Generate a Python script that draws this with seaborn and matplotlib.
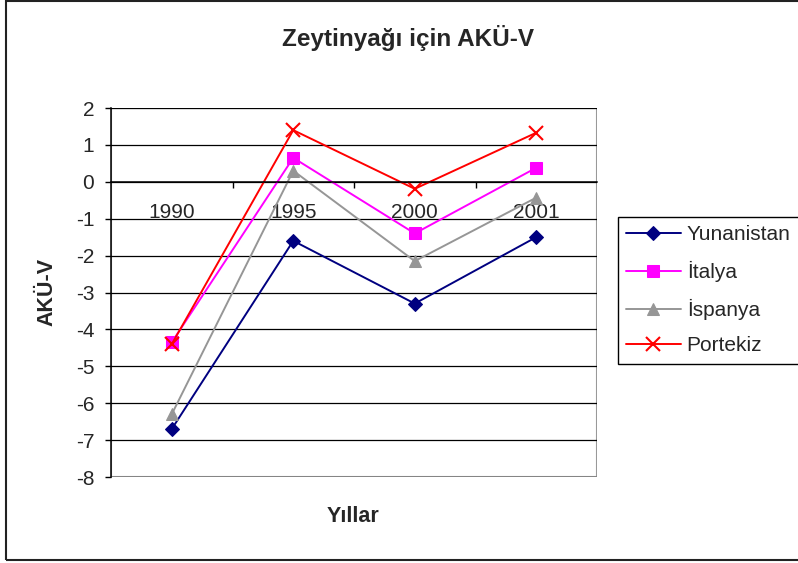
import matplotlib
matplotlib.use("Agg")
import matplotlib.pyplot as plt
import seaborn as sns
from matplotlib.patches import Rectangle

# --- DATA ---
years = ["1990", "1995", "2000", "2001"]
yunanistan = [-6.7, -1.6, -3.3, -1.5]
italya = [-4.35, 0.65, -1.4, 0.38]
ispanya = [-6.3, 0.3, -2.15, -0.43]
portekiz = [-4.4, 1.4, -0.19, 1.33]

series_names = ["Yunanistan", "İtalya", "İspanya", "Portekiz"]
series_values = [yunanistan, italya, ispanya, portekiz]
colors = ["#000080", "#FF00FF", "#969696", "#FF0000"]
markers = ["D", "s", "^", "x"]
marker_sizes = [7, 8, 9, 10]

sns.set_style("white")
plt.rcParams['font.family'] = ['Liberation Sans', 'DejaVu Sans']
plt.rcParams['axes.unicode_minus'] = False

fig = plt.figure(figsize=(7.98, 5.63), dpi=100)
ax = fig.add_axes([111 / 798, 1 - 477 / 563, 486 / 798, 369 / 563])

for name, vals, c, m, ms in zip(series_names, series_values, colors, markers, marker_sizes):
    sns.lineplot(x=years, y=vals, ax=ax, color=c, marker=m, markersize=ms,
                 markeredgecolor=c, markeredgewidth=1.5 if m == "x" else 0.75,
                 linewidth=1.4, label=name, sort=False)

# --- AXES ---
ax.set_xlim(-0.5, 3.5)
ax.set_ylim(-8, 2)
ax.set_yticks(range(-8, 3))
ax.grid(axis='y', color='black', linewidth=0.9)
ax.grid(axis='x', visible=False)
ax.set_axisbelow(True)

for s in ["top", "right"]:
    ax.spines[s].set_visible(False)
ax.spines["left"].set_color("black")
ax.spines["left"].set_linewidth(1.1)
ax.spines["bottom"].set_position(("data", 0))
ax.spines["bottom"].set_color("black")
ax.spines["bottom"].set_linewidth(1.1)
ax.add_patch(Rectangle((0, 0), 1, 1, transform=ax.transAxes, fill=False,
                       edgecolor="#999999", linewidth=1.5, zorder=0.5))

ax.set_xticks(range(len(years)))
ax.set_xticklabels(years)
ax.set_xticks([0.5, 1.5, 2.5], minor=True)
ax.tick_params(axis='x', which='major', length=0, pad=15, labelsize=15)
ax.tick_params(axis='x', which='minor', length=4, width=1, color='black', direction='out', bottom=True)
ax.tick_params(axis='y', length=4, width=1, color='black', direction='out', left=True, pad=8, labelsize=15)

ax.set_xlabel("")
ax.set_ylabel("")
fig.text(47 / 798, 1 - 292 / 563, "AKÜ-V", rotation=90, ha='center', va='center',
         fontsize=15.5, fontweight='bold')
fig.text(353 / 798, 1 - 516 / 563, "Yıllar", ha='center', va='center',
         fontsize=15.5, fontweight='bold')
fig.text(408 / 798, 1 - 38 / 563, "Zeytinyağı için AKÜ-V", ha='center', va='center',
         fontsize=17.5, fontweight='bold')

# --- LEGEND ---
ax.get_legend().remove()
handles, labels = ax.get_legend_handles_labels()
leg = fig.legend(handles, labels, loc='upper left', bbox_to_anchor=(618 / 798, 1 - 217 / 563),
                 frameon=True, fancybox=False, framealpha=1, edgecolor='black',
                 fontsize=15, handlelength=2.6, handletextpad=0.3, labelspacing=0.8,
                 borderpad=0.4, borderaxespad=0)
leg.get_frame().set_linewidth(1.0)

# outer chart frame
fig.patches.append(Rectangle((6 / 798, 3 / 563), 1.0, 1 - 4 / 563, transform=fig.transFigure,
                             fill=False, edgecolor='#222222', linewidth=1.5))

fig.savefig("out.png", dpi=100)
